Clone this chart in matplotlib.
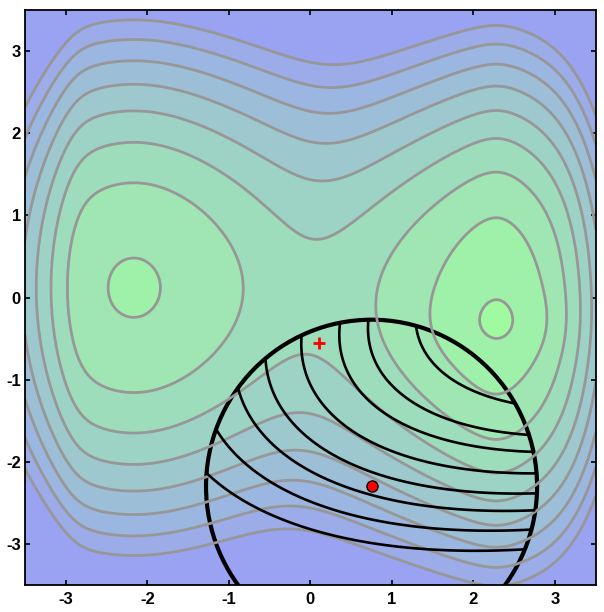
import numpy as np
import matplotlib.pyplot as plt
from matplotlib.colors import to_rgb
from matplotlib.patches import Circle

plt.rcParams['font.family'] = ['Liberation Sans', 'DejaVu Sans']
plt.rcParams['axes.unicode_minus'] = False
plt.rcParams['contour.negative_linestyle'] = 'solid'

# the two maxima of the objective (left, right)
peak_x = [-2.17, 2.31]
peak_y = [0.12, -0.1]
peak_depth = [-2.64, -3.72]
peak_curv = [1.245, 3.73]
peak_core = [1.0, 0.3]
# steep outer walls
wall_side = [-1, 1]
wall_slope = [6.6, 15.0]
wall_start = [0.7, 1.0]
wall_soft = [0.1, 0.25]
# sharp tip of the right maximum: x, y, height, x width, y width
tip = [2.31, -0.33, 0.6, 0.5, 0.3]
temp = 1.2
levels = [-4.01, -2.51, -1.01, 0.49, 1.99, 3.49, 4.99, 6.49, 7.99]

# quadratic model: x^2 + b*x*y + c*y^2 + d*x + e*y
model = [-1.4864, 3.2255, -8.6293, 3.4619]
model_levels = [-9.646, -6.048, -3.601, -0.042, 3.659, 7.093, 11.303, 15.898]

center = (0.75, -2.3)
radius = 2.03
step = (0.1, -0.55)

xs = np.linspace(-3.5, 3.5, 600)
X, Y = np.meshgrid(xs, xs)
parts = []
for i in range(2):
    u = X - peak_x[i]
    u0 = peak_core[i]
    g = peak_depth[i] + 2 * peak_curv[i] * u0**2 * (np.sqrt(1 + (u / u0) ** 2) - 1)
    w = wall_soft[i]
    g += wall_slope[i] * w * np.logaddexp(0, (wall_side[i] * u - wall_start[i]) / w)
    g += (Y - peak_y[i]) ** 2
    parts.append(-g / temp)
G = -temp * np.logaddexp(parts[0], parts[1])
G -= tip[2] * np.exp(-(X - tip[0]) ** 2 / (2 * tip[3] ** 2) - (Y - tip[1]) ** 2 / (2 * tip[4] ** 2))

b, c, d, e = model
Q = X**2 + b * X * Y + c * Y**2 + d * X + e * Y

blue = np.array(to_rgb('#9aa2f2'))
green = np.array(to_rgb('#a0faa0'))
nb = len(levels) + 1
cols = [tuple(green + (blue - green) * i / (nb - 1)) for i in range(nb)]

fig = plt.figure(figsize=(6.04, 6.12), dpi=100)
ax = fig.add_axes([0.0414, 0.0441, 0.945, 0.9395])
ax.contourf(X, Y, G, levels=[-100] + levels + [1000], colors=cols)
ax.contour(X, Y, G, levels=levels, colors='#979797', linewidths=2)

# trust region and the model's contours inside it
clip = Circle(center, radius, transform=ax.transData)
qs = ax.contour(X, Y, Q, levels=model_levels, colors='k', linewidths=1.9)
qs.set_clip_path(clip)
ax.add_patch(Circle(center, radius, fill=False, ec='k', lw=3))
ax.plot(*step, '+', color='red', ms=8, mew=2)
ax.plot(*center, 'o', mfc='red', mec='k', ms=8)

ax.set_xlim(-3.5, 3.5)
ax.set_ylim(-3.5, 3.5)
ax.set_xticks(range(-3, 4))
ax.set_yticks(range(-3, 4))
ax.tick_params(direction='in', top=True, right=True, labelsize=12, pad=3, width=1.2)
ax.tick_params(axis='x', pad=5)
for lab in ax.get_xticklabels() + ax.get_yticklabels():
    lab.set_fontweight('bold')
for s in ax.spines.values():
    s.set_linewidth(1.3)
fig.savefig('out.png', dpi=100)
